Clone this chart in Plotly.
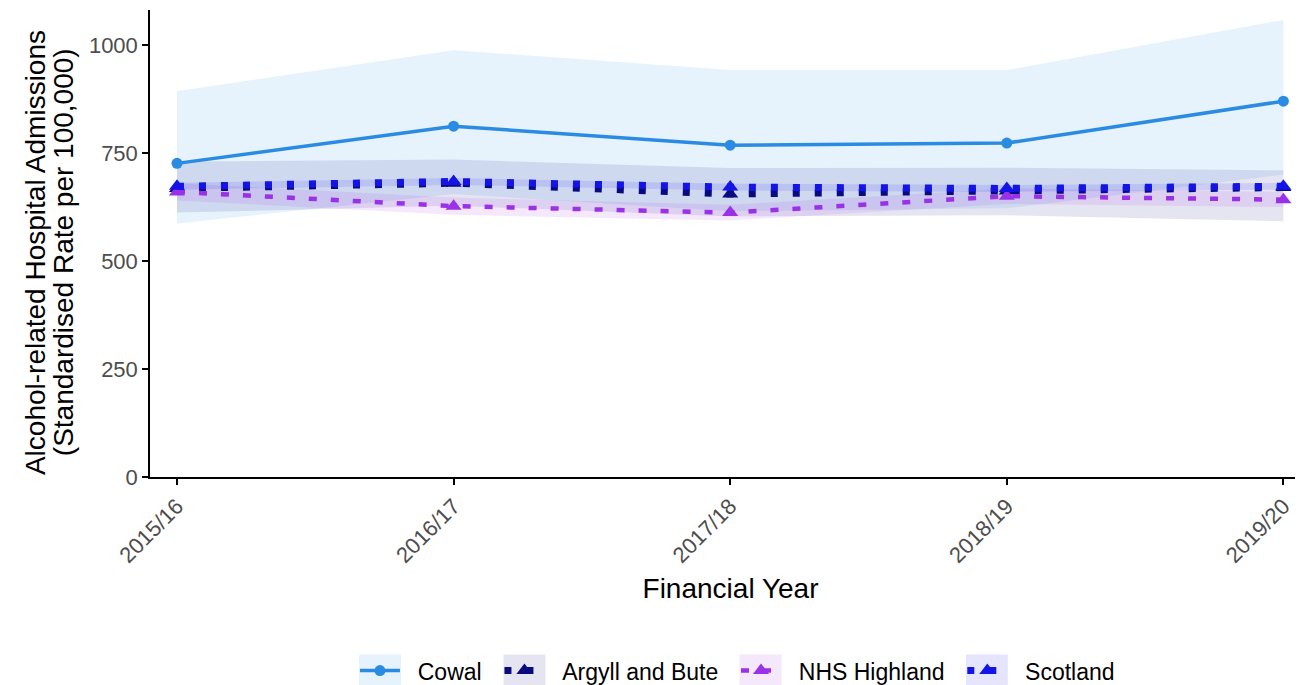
import plotly.graph_objects as go

years = ["2015/16", "2016/17", "2017/18", "2018/19", "2019/20"]

cowal = [726, 812, 768, 773, 870]
cowal_lower = [587, 655, 615, 622, 700]
cowal_upper = [893, 988, 942, 942, 1058]

argyll = [668, 680, 655, 662, 670]
argyll_lower = [612, 628, 603, 606, 592]
argyll_upper = [730, 735, 715, 716, 710]

highland = [660, 627, 612, 650, 642]
highland_lower = [640, 607, 594, 632, 625]
highland_upper = [680, 647, 630, 668, 660]

scotland = [673, 684, 671, 668, 673]
scotland_lower = [665, 676, 663, 660, 665]
scotland_upper = [681, 692, 679, 676, 681]

x = list(range(len(years)))

series = [
    ("Cowal", cowal, cowal_lower, cowal_upper, "#2A8BE2", "rgba(30,136,229,0.11)", "solid", 3.5, "circle", 11),
    ("Argyll and Bute", argyll, argyll_lower, argyll_upper, "#0A0A80", "rgba(0,0,128,0.10)", "7px,15px", 7, "triangle-up", 14),
    ("NHS Highland", highland, highland_lower, highland_upper, "#9A30E8", "rgba(160,32,240,0.10)", "8px,14px", 4.5, "triangle-up", 14),
    ("Scotland", scotland, scotland_lower, scotland_upper, "#1414E6", "rgba(0,0,255,0.10)", "7px,15px", 7, "triangle-up", 14),
]

# legend key background boxes (paper coordinates)
key_boxes = [(0.1800, 0.2162), (0.3045, 0.3407), (0.5078, 0.5440), (0.7028, 0.7389)]

NB = "\u00a0\u00a0"

fig = go.Figure()

for name, vals, lo, hi, col, fill, dash, w, sym, ms in series:
    fig.add_trace(go.Scatter(
        x=x + x[::-1], y=hi + lo[::-1], fill="toself", fillcolor=fill,
        line=dict(width=0), mode="lines", hoverinfo="skip", showlegend=False,
    ))

for name, vals, lo, hi, col, fill, dash, w, sym, ms in series:
    fig.add_trace(go.Scatter(
        x=x, y=vals, name=NB + name + NB, mode="lines+markers",
        line=dict(color=col, width=w, dash=dash),
        marker=dict(symbol=sym, size=ms, color=col),
    ))

for (x0, x1), s in zip(key_boxes, series):
    fig.add_shape(type="rect", xref="paper", yref="paper", x0=x0, x1=x1,
                  y0=-0.4506, y1=-0.3799, fillcolor=s[5], line=dict(width=0), layer="below")

fig.add_annotation(text="Alcohol-related Hospital Admissions", xref="paper", yref="paper",
                   x=-0.0991, y=0.4815, textangle=-90, showarrow=False,
                   xanchor="center", yanchor="middle", font=dict(size=28, color="black"))
fig.add_annotation(text="(Standardised Rate per 100,000)", xref="paper", yref="paper",
                   x=-0.0749, y=0.4815, textangle=-90, showarrow=False,
                   xanchor="center", yanchor="middle", font=dict(size=28, color="black"))

fig.update_layout(
    width=1303, height=685,
    margin=dict(l=142, r=0, t=2, b=216.3),
    plot_bgcolor="white", paper_bgcolor="white",
    font=dict(family="Liberation Sans", size=20, color="#4d4d4d"),
    xaxis=dict(
        range=[-0.0976, 4.0998], tickmode="array", tickvals=x, ticktext=years,
        tickangle=-45, showgrid=False, zeroline=False, automargin=False,
        showline=True, linecolor="black", linewidth=1.5,
        ticks="outside", ticklen=6, tickcolor="black", tickwidth=1.5,
        tickfont=dict(size=22, color="#4d4d4d"),
        title=dict(text="Financial Year", font=dict(size=28, color="black"), standoff=12),
    ),
    yaxis=dict(
        range=[0, 1081], tickvals=[0, 250, 500, 750, 1000],
        showgrid=False, zeroline=False, automargin=False,
        showline=True, linecolor="black", linewidth=1.5,
        ticks="outside", ticklen=6, tickcolor="black", tickwidth=1.5,
        tickfont=dict(size=22, color="#4d4d4d"),
    ),
    legend=dict(
        orientation="h", x=0.5116, xanchor="center", y=-0.4146, yanchor="middle",
        font=dict(size=23, color="black"), itemwidth=40, bgcolor="rgba(0,0,0,0)",
    ),
)

fig.write_html("out.html")
